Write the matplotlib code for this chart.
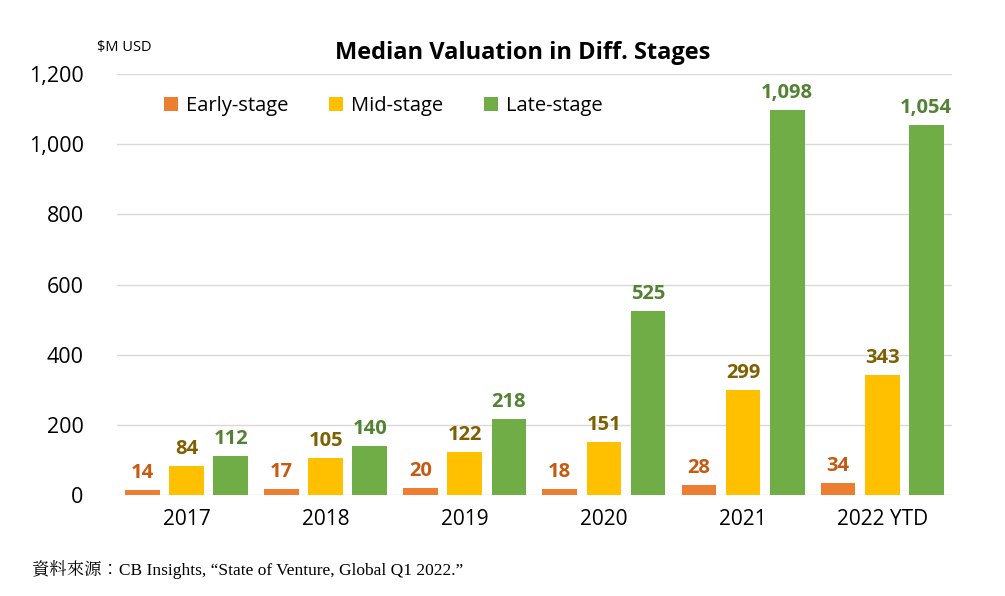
import matplotlib.pyplot as plt
import numpy as np

years = ['2017', '2018', '2019', '2020', '2021', '2022 YTD']
early = [14, 17, 20, 18, 28, 34]
mid = [84, 105, 122, 151, 299, 343]
late = [112, 140, 218, 525, 1098, 1054]

plt.rcParams['font.family'] = ['Open Sans', 'DejaVu Sans']

fig = plt.figure(figsize=(10.05, 5.96), dpi=100)
ax = fig.add_axes([0.1164, 0.1695, 0.8306, 0.7063])

x = np.arange(len(years))
w = 0.25
off = 0.317
series = [
    (early, 'Early-stage', '#ED7D31', '#C55A11', -off),
    (mid, 'Mid-stage', '#FFC000', '#7F6000', 0),
    (late, 'Late-stage', '#70AD47', '#548235', off),
]
for vals, name, col, lcol, dx in series:
    bars = ax.bar(x + dx, vals, w, color=col, label=name, zorder=3)
    for b, v in zip(bars, vals):
        ax.annotate(f'{v:,}', (b.get_x() + b.get_width() / 2, v),
                    xytext=(0, 5), textcoords='offset points',
                    ha='center', va='bottom', fontsize=14.5,
                    fontweight='bold', color=lcol)

ax.set_xlim(-0.5, len(years) - 0.5)
ax.set_ylim(0, 1200)
ax.set_yticks(range(0, 1201, 200))
ax.set_yticklabels([f'{v:,}' for v in range(0, 1201, 200)], fontsize=15.5)
ax.set_xticks(x)
ax.set_xticklabels(years, fontsize=15)
ax.tick_params(length=0)
ax.tick_params(axis='x', pad=10)
ax.tick_params(axis='y', pad=24)
ax.grid(axis='y', color='#D9D9D9', linewidth=1, zorder=0)
for s in ['top', 'right', 'left', 'bottom']:
    ax.spines[s].set_visible(False)

ax.legend(loc='upper left', bbox_to_anchor=(0.035, 0.99), ncol=3,
          frameon=False, fontsize=14.5, handlelength=0.7, handleheight=0.7,
          columnspacing=2.0, handletextpad=0.4)

fig.text(0.52, 0.911, 'Median Valuation in Diff. Stages', ha='center',
         va='center', fontsize=17, fontweight='bold')
fig.text(0.097, 0.915, '$M USD', fontsize=10.5)
fig.text(0.032, 0.035, '資料來源：CB Insights, “State of Venture, Global Q1 2022.”',
         family=['Liberation Serif', 'Noto Serif CJK TC', 'Noto Sans CJK TC'],
         fontsize=12.5)

fig.savefig('out.png', dpi=100)
